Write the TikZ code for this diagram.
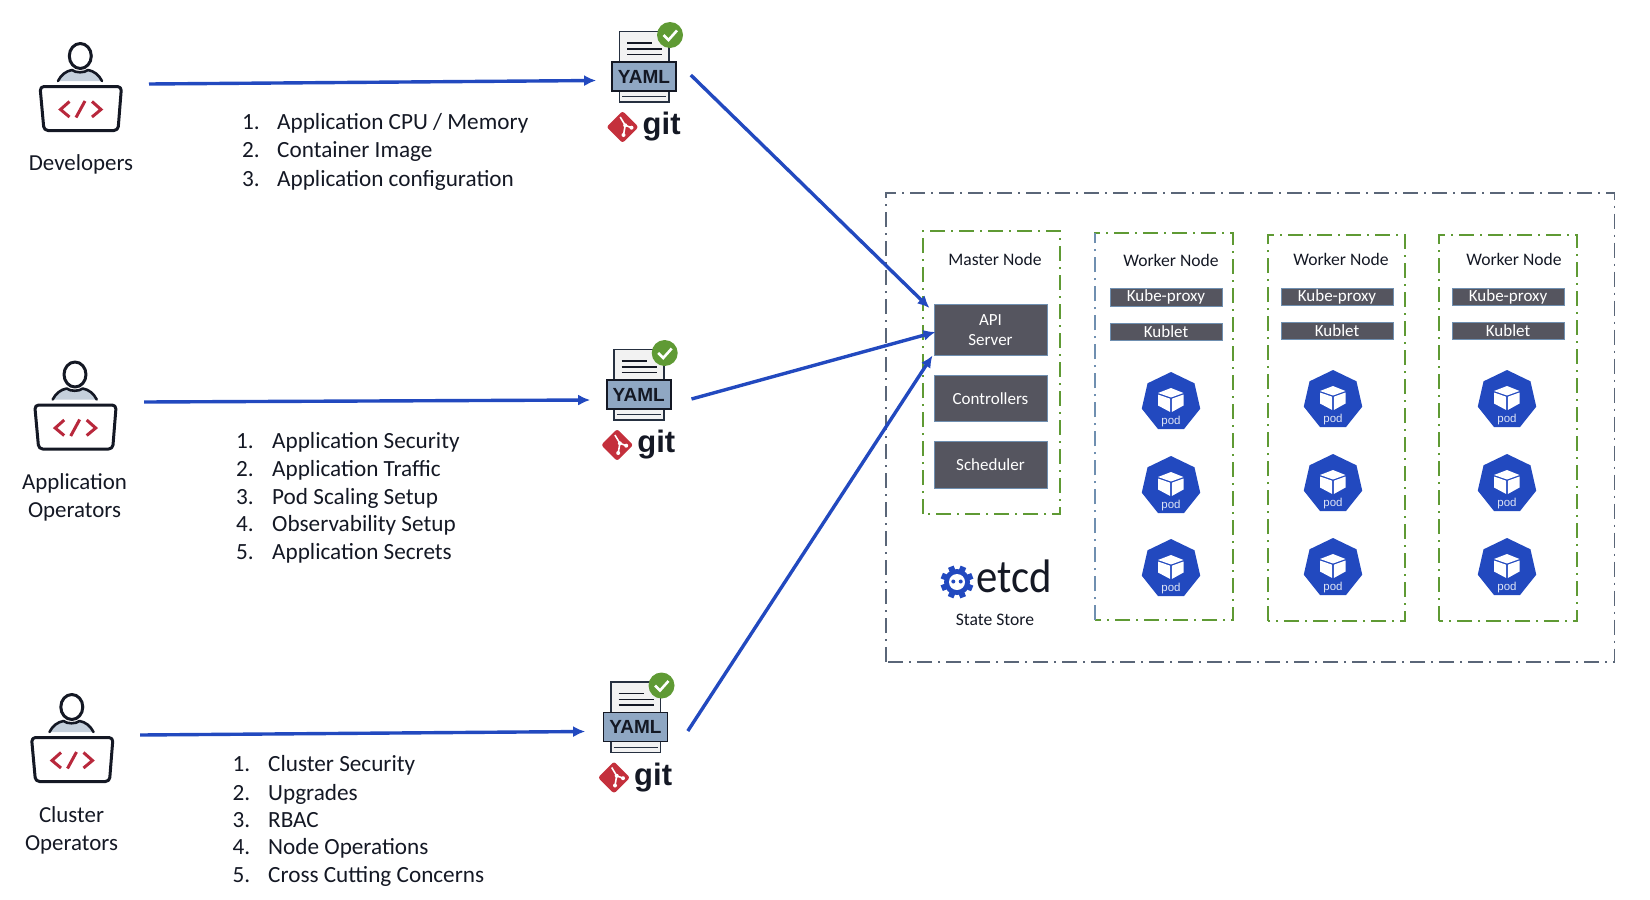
\documentclass[tikz,border=0pt]{standalone}
\usepackage{fontspec}
\setmainfont{Carlito}
\newfontfamily\logofont{Liberation Sans}
\usetikzlibrary{arrows.meta,shapes.geometric}
\definecolor{flowblue}{HTML}{2249BF}
\definecolor{inktext}{HTML}{141824}
\definecolor{boxgray}{HTML}{55555F}
\definecolor{edgeblue}{HTML}{6F8FB0}
\definecolor{nodegreen}{HTML}{5F9A34}
\definecolor{outerslate}{HTML}{5A6678}
\definecolor{codered}{HTML}{B8283C}
\definecolor{yamlfill}{HTML}{8FA7C3}
\definecolor{gitred}{HTML}{C4303C}
\definecolor{shoulder}{HTML}{C5D0DC}
\tikzset{
  flow/.style={draw=flowblue,line width=3.4pt,-{Latex[length=12pt,width=11pt]}},
  outerframe/.style={draw=outerslate,line width=1.8pt,dash pattern=on 15pt off 6pt on 2pt off 6pt},
  nodeframe/.style={draw=nodegreen,line width=2.4pt,dash pattern=on 15pt off 6pt on 2pt off 6pt},
  bluestroke/.style={draw=edgeblue,line width=2.4pt,dash pattern=on 15pt off 6pt on 2pt off 6pt},
  ctrlbox/.style={draw=edgeblue,line width=1pt,fill=boxgray,text=white,align=center,inner sep=0pt,font=\fontsize{17}{20}\selectfont},
  smallbox/.style={draw=edgeblue,line width=1pt,fill=boxgray,text=white,inner sep=0pt,font=\fontsize{17}{17}\selectfont},
  titletext/.style={text=inktext,font=\fontsize{17.6}{20}\selectfont,inner sep=0pt},
  listtext/.style={text=inktext,font=\fontsize{23.2}{28}\selectfont,inner sep=0pt,anchor=base west},
  roletext/.style={text=inktext,font=\fontsize{22.9}{27.5}\selectfont,inner sep=0pt,align=center},
  podshape/.style={regular polygon,regular polygon sides=7,minimum size=60pt,inner sep=0pt,outer sep=0pt,fill=flowblue,draw=none},
  podtext/.style={text=white!85!flowblue,inner sep=0pt,font=\logofont\fontsize{11.5}{12}\selectfont},
  personline/.style={draw=inktext,line width=3pt,line join=round,line cap=round},
  codeline/.style={draw=codered,line width=3pt,line join=miter},
}
\newcommand{\personicon}[3]{%
  \begin{scope}[shift={(#2,#3)}]
    \draw[personline,fill=white] (80.3,56) ellipse [x radius=11,y radius=12.5];
    \draw[personline,line width=2.6pt,fill=shoulder] (58,81) .. controls (61,75) and (66,71) .. (72,70) .. controls (75,73) and (85,73) .. (88,70) .. controls (94,71) and (99,75) .. (102,81);
    \draw[personline,rounded corners=4pt] (40,86.5) -- (121.5,86.5) -- (118,130.5) -- (44,130.5) -- cycle;
    \draw[codeline] (69.5,101.5) -- (60.5,109.5) -- (69.5,117);
    \draw[codeline] (85,101) -- (76,117.5);
    \draw[codeline] (92,101.5) -- (101,109.5) -- (92,117);
    \node[inner sep=0pt,minimum width=82pt,minimum height=46pt] (#1) at (80.8,108.5) {};
  \end{scope}}
\newcommand{\yamlicon}[3]{%
  \begin{scope}[shift={(#2,#3)}]
    \draw[inktext!80!edgeblue,line width=1.6pt,fill=black!5] (619.5,31.5) rectangle (669,102);
    \draw[inktext,line width=1.2pt] (627,43) -- (652,43) (627,49) -- (662,49) (627,54.5) -- (662,54.5);
    \node[draw=inktext,line width=1.6pt,fill=yamlfill,text=inktext,minimum width=64pt,minimum height=29pt,inner sep=0pt,font=\logofont\bfseries\fontsize{19}{19}\selectfont] (#1) at (644,76.5) {YAML};
    \draw[inktext!80!edgeblue,line width=1pt] (622,96.5) -- (666,96.5);
    \fill[nodegreen] (670,35) circle [radius=13];
    \draw[white,line width=2.6pt] (663.5,35) -- (668.5,40) -- (677,30.5);
    \fill[gitred,rounded corners=2.5pt] (622.5,111) -- (638.5,127) -- (622.5,143) -- (606.5,127) -- cycle;
    \draw[white,line width=1.6pt] (620.2,117) -- (625.2,125.3) -- (623.5,135) (625.2,125.3) -- (631.5,127.7);
    \fill[white] (625.2,125.3) circle [radius=2] (623.5,135) circle [radius=2] (631.5,127.7) circle [radius=2];
    \node[anchor=base west,inner sep=0pt,text=inktext,font=\logofont\bfseries\fontsize{31}{31}\selectfont] (#1git) at (642.5,134.5) {git};
  \end{scope}}
\newcommand{\podnode}[3]{%
  \node[podshape] (#1) at (#2,#3) {};
  \begin{scope}[shift={(#2,#3)}]
    \fill[white] (0,-14) -- (12.5,-9) -- (0,-4.5) -- (-13,-9) -- cycle;
    \fill[white] (-13,-7.5) -- (-0.8,-3.3) -- (-0.8,10) -- (-13,3.5) -- cycle;
    \fill[white] (12.5,-7.5) -- (0.8,-3.3) -- (0.8,10) -- (12.5,3.5) -- cycle;
    \node[podtext] (#1t) at (0,19.3) {pod};
  \end{scope}}
\begin{document}
\begin{tikzpicture}[x=1pt,y=-1pt]
\useasboundingbox (0,0) rectangle (1650,900);
% cluster frame
\draw[outerframe] (886,662) -- (886,193) -- (1614.5,193) -- (1614.5,662) -- cycle;
% node frames
\draw[nodeframe] (923,514) -- (923,231) -- (1060,231) -- (1060,514) -- cycle;
\draw[nodeframe] (1095,620) -- (1095,233) -- (1233,233) -- (1233,620) -- cycle;
\draw[bluestroke] (1095,620) -- (1095,233);
\draw[nodeframe] (1268,621) -- (1268,235) -- (1405,235) -- (1405,621) -- cycle;
\draw[nodeframe] (1439,621) -- (1439,235) -- (1577,235) -- (1577,621) -- cycle;
% master
\node[titletext] (mastertitle) at (995,259) {Master Node};
\node[ctrlbox,minimum width=113pt,minimum height=51pt] (api) at (990.5,330) {API\\Server};
\node[ctrlbox,minimum width=113pt,minimum height=46pt] (ctrl) at (990.5,398.5) {Controllers};
\node[ctrlbox,minimum width=113pt,minimum height=47pt] (sched) at (990.5,465) {Scheduler};
% etcd
\begin{scope}[shift={(957,582)}]
  \foreach \a in {0,45,...,315}{\fill[flowblue,rotate=\a+22] (-3,-16.5) rectangle (3,-8);}
  \fill[flowblue] (0,0) circle [radius=13];
  \fill[white] (0,0) circle [radius=8];
  \fill[flowblue] (-3.7,-0.5) circle [radius=2] (3.7,-0.5) circle [radius=2];
\end{scope}
\node[anchor=base west,inner sep=0pt,text=inktext,xscale=.91,transform shape,font=\fontsize{47}{47}\selectfont] (etcd) at (976,592) {etcd};
\node[titletext] (statestore) at (995,620) {State Store};
% workers
\node[titletext] (w1title) at (1171,260) {Worker Node};
\node[titletext] (w2title) at (1341,259) {Worker Node};
\node[titletext] (w3title) at (1514,259) {Worker Node};
\node[smallbox,minimum width=112pt,minimum height=18pt] (kp1) at (1166,297) {Kube-proxy};
\node[smallbox,minimum width=112pt,minimum height=17pt] (kl1) at (1166,331.5) {Kublet};
\node[smallbox,minimum width=112pt,minimum height=17pt] (kp2) at (1337,296.5) {Kube-proxy};
\node[smallbox,minimum width=112pt,minimum height=17pt] (kl2) at (1337,330.5) {Kublet};
\node[smallbox,minimum width=112pt,minimum height=17pt] (kp3) at (1508,296.5) {Kube-proxy};
\node[smallbox,minimum width=112pt,minimum height=17pt] (kl3) at (1508,330.5) {Kublet};
\podnode{p11}{1171}{402}\podnode{p12}{1171}{486}\podnode{p13}{1171}{569}
\podnode{p21}{1333}{400}\podnode{p22}{1333}{484}\podnode{p23}{1333}{568}
\podnode{p31}{1507}{400}\podnode{p32}{1507}{484}\podnode{p33}{1507}{568}
% people
\personicon{dev}{0}{0}
\personicon{appop}{-5.3}{318.5}
\personicon{clop}{-8.5}{651}
\node[roletext] (devlabel) at (81,164.5) {Developers};
\node[roletext] (applabel) at (74.5,497.5) {Application\hspace{4pt}\\ Operators};
\node[roletext] (cllabel) at (71.5,830.5) {Cluster\hspace{6pt}\\ Operators};
% yaml
\yamlicon{yaml1}{0}{0}
\yamlicon{yaml2}{-5.3}{318}
\yamlicon{yaml3}{-8.5}{650.5}
% lists
\node[listtext] (n11) at (242,129) {1.};\node[listtext] (l11) at (277,129) {Application CPU / Memory};
\node[listtext] (n12) at (242,157.5) {2.};\node[listtext] (l12) at (277,157.5) {Container Image};
\node[listtext] (n13) at (242,186) {3.};\node[listtext] (l13) at (277,186) {Application configuration};
\node[listtext] (n21) at (236,448) {1.};\node[listtext] (l21) at (272,448) {Application Security};
\node[listtext] (n22) at (236,476.5) {2.};\node[listtext] (l22) at (272,476.5) {Application Traffic};
\node[listtext] (n23) at (236,504.5) {3.};\node[listtext] (l23) at (272,504.5) {Pod Scaling Setup};
\node[listtext] (n24) at (236,531) {4.};\node[listtext] (l24) at (272,531) {Observability Setup};
\node[listtext] (n25) at (236,559) {5.};\node[listtext] (l25) at (272,559) {Application Secrets};
\node[listtext] (n31) at (232.5,771.5) {1.};\node[listtext] (l31) at (268,771.5) {Cluster Security};
\node[listtext] (n32) at (232.5,800) {2.};\node[listtext] (l32) at (268,800) {Upgrades};
\node[listtext] (n33) at (232.5,827.5) {3.};\node[listtext] (l33) at (268,827.5) {RBAC};
\node[listtext] (n34) at (232.5,854.5) {4.};\node[listtext] (l34) at (268,854.5) {Node Operations};
\node[listtext] (n35) at (232.5,882.5) {5.};\node[listtext] (l35) at (268,882.5) {Cross Cutting Concerns};
% connectors
\draw[flow] ([shift={(27,-24.5)}]dev.east) -- ([shift={(-15,4)}]yaml1.west);
\draw[flow] ([shift={(27.5,-25)}]appop.east) -- ([shift={(-15.7,5.5)}]yaml2.west);
\draw[flow] ([shift={(26.7,-24.5)}]clop.east) -- ([shift={(-17.5,4.5)}]yaml3.west);
\draw[flow] ([shift={(14,-1.5)}]yaml1.east) -- ([shift={(-4,-22)}]api.west);
\draw[flow] ([shift={(20,4.5)}]yaml2.east) -- ([shift={(2,2)}]api.west);
\draw[flow] ([shift={(19.5,4)}]yaml3.east) -- ([shift={(-1,25.5)}]api.west);
\end{tikzpicture}
\end{document}
